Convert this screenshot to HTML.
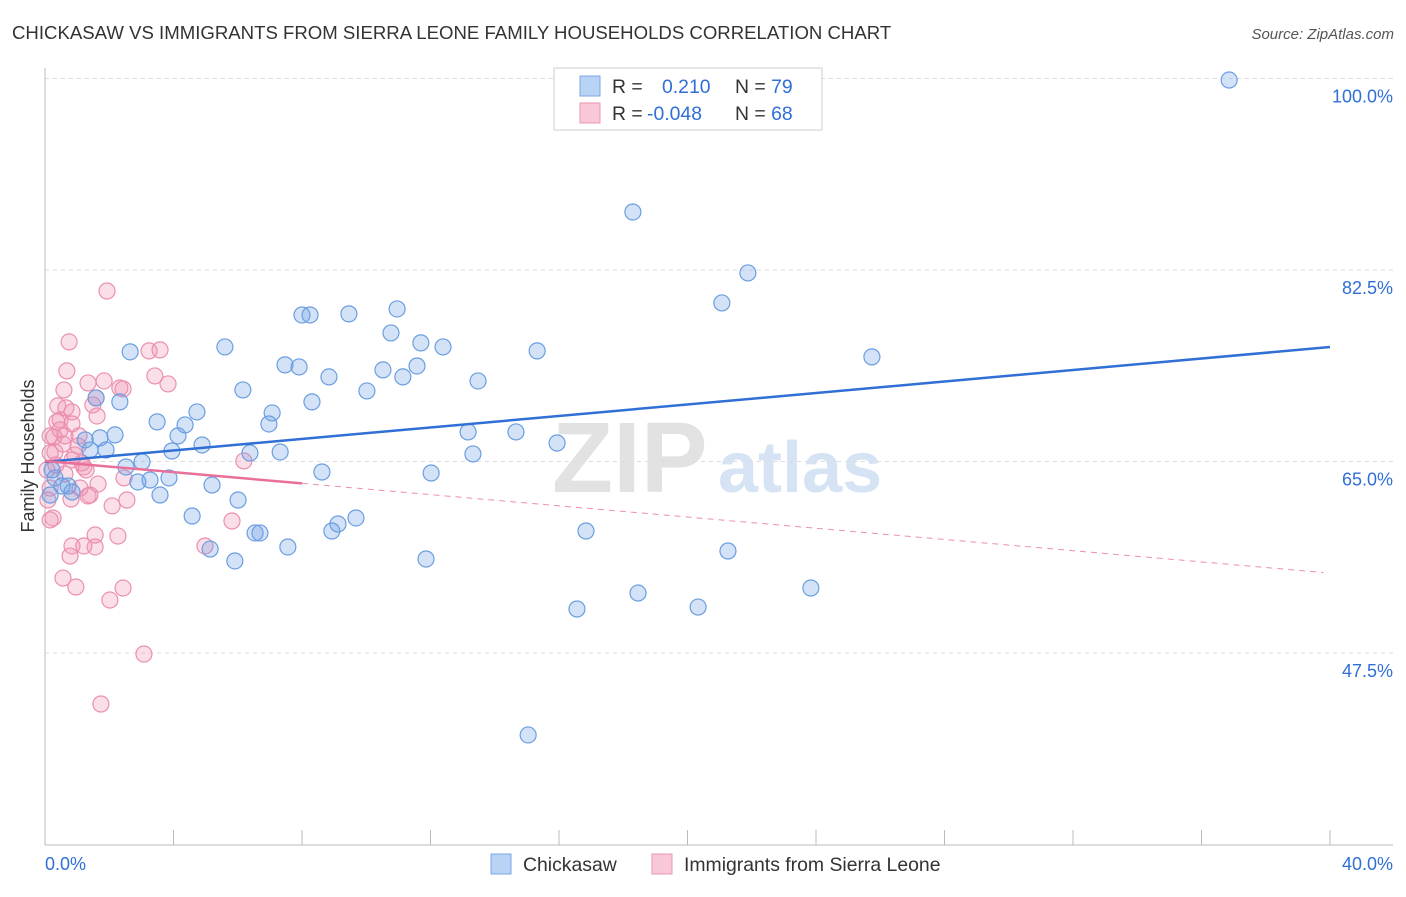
<!DOCTYPE html>
<html><head><meta charset="utf-8"><style>
body{margin:0;background:#fff;font-family:"Liberation Sans",sans-serif;}
svg text{font-family:"Liberation Sans",sans-serif;}
</style></head><body>
<svg id="chart" width="1406" height="892" viewBox="0 0 1406 892">
<text x="12" y="39" font-size="18.6" fill="#333">CHICKASAW VS IMMIGRANTS FROM SIERRA LEONE FAMILY HOUSEHOLDS CORRELATION CHART</text>
<text x="1394" y="39" font-size="15" fill="#555" font-style="italic" text-anchor="end">Source: ZipAtlas.com</text>
<g>
<text x="552" y="492" font-size="100" fill="#e2e2e2" font-family="Liberation Serif" font-weight="bold">ZIP</text>
<text x="718" y="492" font-size="72" fill="#d5e3f5" font-weight="bold">atlas</text>
</g>
<g id="grid"></g>
<g id="axes"></g>
<text transform="translate(34,456) rotate(-90)" font-size="18" fill="#333" text-anchor="middle">Family Households</text>
<g id="marks"></g>
<g id="lines"></g>
<g>
<rect x="554" y="68" width="268" height="62" fill="#fff" stroke="#ccc"/>
<rect x="580" y="76" width="20" height="20" fill="#b9d3f5" stroke="#7aa7e6"/>
<rect x="580" y="103" width="20" height="20" fill="#f9c8d8" stroke="#eb95b3"/>
<text x="612" y="93" font-size="19.4" fill="#333">R = <tspan fill="#2f6fd6" x="662">0.210</tspan><tspan fill="#333" x="735">N = </tspan><tspan fill="#2f6fd6">79</tspan></text>
<text x="612" y="120" font-size="19.4" fill="#333">R = <tspan fill="#2f6fd6" x="647">-0.048</tspan><tspan fill="#333" x="735">N = </tspan><tspan fill="#2f6fd6">68</tspan></text>
</g>
<g>
<rect x="491" y="854" width="20" height="20" fill="#b9d3f5" stroke="#7aa7e6"/>
<text x="523" y="871" font-size="19.4" fill="#333">Chickasaw</text>
<rect x="652" y="854" width="20" height="20" fill="#f9c8d8" stroke="#eb95b3"/>
<text x="684" y="871" font-size="19.4" fill="#333">Immigrants from Sierra Leone</text>
</g>
</svg>
<script>
const yTicks=[100,82.5,65,47.5];
const yTickLabels=["100.0%","82.5%","65.0%","47.5%"];
const xTickLabels=["0.0%","40.0%"];
const blueX=[36.86,18.30,21.88,21.07,10.96,9.46,8.00,8.25,10.77,11.70,12.39,5.60,2.65,15.32,25.74,7.47,7.91,11.58,10.52,11.14,8.84,13.48,6.16,10.02,2.33,8.31,1.59,4.73,7.07,3.49,4.36,6.97,4.14,2.18,1.71,13.17,14.66,15.94,3.95,4.89,6.38,7.32,1.90,1.40,1.25,3.02,2.52,8.62,12.02,13.32,3.86,3.27,2.89,5.20,0.72,0.84,3.58,6.01,4.58,9.68,9.12,8.93,16.84,5.14,6.54,6.69,7.56,5.91,11.86,21.26,18.46,23.84,16.56,20.33,15.04,0.16,0.31,0.22,0.53];
const blueY=[99.86,87.80,82.23,79.49,78.94,78.49,78.39,78.39,76.75,75.84,75.47,75.47,75.02,75.11,74.56,73.83,73.64,73.73,73.37,72.73,72.73,72.36,71.54,71.45,70.45,70.45,70.81,69.53,69.44,68.62,68.34,68.43,67.34,67.43,67.16,67.70,67.70,66.69,65.96,66.51,65.78,65.87,66.05,66.05,66.97,64.96,64.50,64.04,63.95,65.69,63.50,63.31,63.13,62.85,62.76,62.21,61.94,61.48,60.02,59.84,59.29,58.65,58.65,57.00,58.47,58.47,57.19,55.91,56.09,56.82,52.98,53.44,51.52,51.70,40.01,61.94,63.50,64.23,62.76];
const pinkX=[1.93,0.75,3.24,3.58,0.68,3.42,1.84,1.34,3.83,2.33,0.59,1.59,1.49,0.40,2.43,0.84,1.62,0.47,0.37,0.84,0.16,0.62,1.06,0.56,1.03,0.31,0.16,0.93,6.19,1.15,1.21,0.06,0.62,2.46,1.65,1.09,1.40,1.34,2.55,0.81,2.09,0.25,0.16,5.82,1.56,2.27,0.84,1.56,1.21,4.98,0.78,0.56,0.96,2.43,2.02,3.08,1.74,0.16,0.34,0.47,0.65,0.84,1.28,0.28,0.09];
const pinkY=[80.58,75.93,75.11,75.20,73.28,72.82,72.36,72.18,72.09,71.72,71.54,70.81,70.17,70.08,71.63,69.53,69.16,68.80,68.62,68.43,67.34,67.34,67.34,66.60,66.42,65.87,65.78,65.60,65.05,64.87,64.50,64.23,63.86,63.50,62.94,62.58,61.94,61.85,61.48,61.57,60.94,59.84,59.66,59.56,58.28,58.19,57.28,57.19,57.28,57.28,56.36,54.35,53.53,53.44,52.34,47.41,42.84,62.58,64.68,67.89,69.90,65.14,64.23,67.25,61.48];
const blueTrend=[64.96,75.46];
const pinkTrend=[65.05,54.8];
const pinkSolidEnd=8;
const NS="http://www.w3.org/2000/svg";
const sx=v=>45+v*32.125;
const sy=v=>78.5+(100-v)*191.5/17.5;
function mk(t,a,p){const e=document.createElementNS(NS,t);for(const k in a)e.setAttribute(k,a[k]);p.appendChild(e);return e;}
const grid=document.getElementById('grid'),axes=document.getElementById('axes'),marks=document.getElementById('marks'),lines=document.getElementById('lines');
yTicks.forEach((t,i)=>{
 const g=mk('line',{x1:45,x2:1393,y1:sy(t),y2:sy(t),stroke:'#ddd','stroke-dasharray':'4,4'},grid);
 
 
 const l=mk('text',{x:1393,y:sy(t)+24,'font-size':18,fill:'#2f6fd6','text-anchor':'end'},axes);
 l.textContent=yTickLabels[i];
 
 
});
const ax=mk('line',{x1:45,x2:45,y1:68,y2:845,stroke:'#bbb'},axes);


const bx=mk('line',{x1:45,x2:1393,y1:845,y2:845,stroke:'#bbb'},axes);


for(let i=0;i<=10;i++){const t=mk('line',{x1:sx(i*4),x2:sx(i*4),y1:830,y2:845,stroke:'#bbb'},axes);
 
 }
[[0,'start',45],[40,'end',1393]].forEach((d,i)=>{const t=mk('text',{x:d[2],y:870,'font-size':18,fill:'#2f6fd6','text-anchor':d[1]},axes);t.textContent=xTickLabels[i];
 
 });
function pts(X,Y,fill,stroke,name){X.forEach((x,i)=>{const c=mk('circle',{cx:sx(x),cy:sy(Y[i]),r:8,fill:fill,stroke:stroke,'stroke-width':1.2},marks);
 
 });}
pts(pinkX,pinkY,'rgba(240,150,180,0.3)','#eb8fb0','sierra-leone-point');
pts(blueX,blueY,'rgba(110,160,230,0.3)','#6a9ee0','chickasaw-point');
const bl=mk('line',{x1:sx(0),y1:sy(blueTrend[0]),x2:sx(40),y2:sy(blueTrend[1]),stroke:'#2f6fd6','stroke-width':2.5},lines);


const pv=x=>pinkTrend[0]+(pinkTrend[1]-pinkTrend[0])*x/40;
const ps=mk('line',{x1:sx(0),y1:sy(pinkTrend[0]),x2:sx(pinkSolidEnd),y2:sy(pv(pinkSolidEnd)),stroke:'#e8709a','stroke-width':2.5},lines);


const pd=mk('line',{x1:sx(pinkSolidEnd),y1:sy(pv(pinkSolidEnd)),x2:sx(39.8),y2:sy(pv(39.8)),stroke:'#eb8fb0','stroke-width':1,'stroke-dasharray':'6,5'},lines);


</script>
</body></html>
